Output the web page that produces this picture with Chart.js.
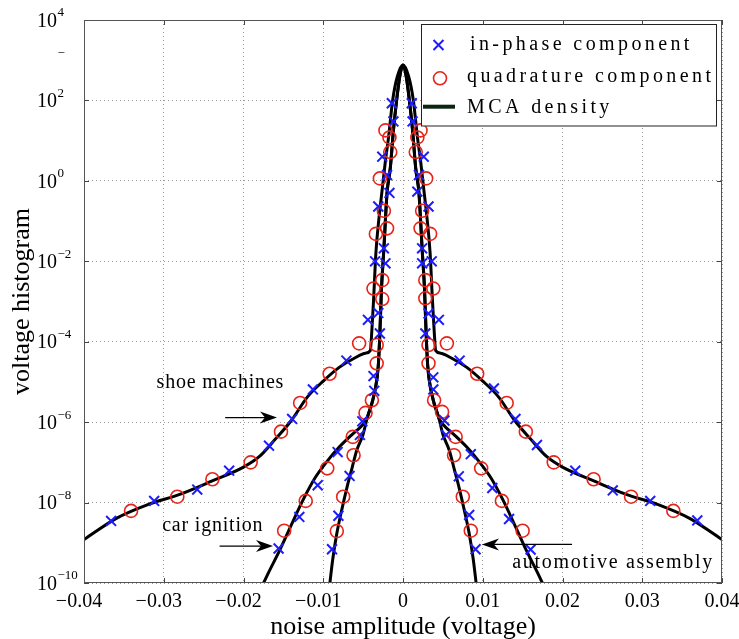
<!DOCTYPE html>
<html>
<head>
<meta charset="utf-8">
<script src="https://cdn.jsdelivr.net/npm/chart.js@4.4.1/dist/chart.umd.min.js"></script>
<style>
    html, body { margin: 0; padding: 0; background: #fff; }
    #wrap { width: 739px; height: 639px; position: relative; }
</style>
</head>
<body>
<div id="wrap"><canvas id="noiseChart"></canvas></div>
<script>
// =========================
// Data
// =========================

const xTicks = [-0.04, -0.03, -0.02, -0.01, 0, 0.01, 0.02, 0.03, 0.04];
const yTicks = [1e4, 1e2, 1e0, 1e-2, 1e-4, 1e-6, 1e-8, 1e-10];
const yTickExponents = ["4", "2", "0", "\u22122", "\u22124", "\u22126", "\u22128", "\u221210"];

// shoe machines
const shoeInX = [-0.0366, -0.0312, -0.0258, -0.0218, -0.0168, -0.0139, -0.0113, -0.0071, -0.0044, -0.0035, -0.0031, -0.0026, -0.0014,
                 0.0011, 0.0026, 0.0032, 0.0036, 0.0045, 0.0071, 0.0114, 0.0141, 0.0168, 0.0216, 0.0263, 0.0310, 0.0369];
const shoeInY = [3.5e-9, 1.1e-8, 2.1e-8, 6.2e-8, 2.6e-7, 1.2e-6, 6.5e-6, 3.4e-5, 3.5e-4, 1.0e-2, 0.23, 4.0, 85,
                 85, 4.0, 0.23, 1.0e-2, 3.5e-4, 3.4e-5, 6.9e-6, 1.2e-6, 2.7e-7, 6.2e-8, 2.0e-8, 1.1e-8, 3.6e-9];
const shoeQuX = [-0.0341, -0.0283, -0.0239, -0.0191, -0.0153, -0.0129, -0.0092, -0.0055, -0.0037, -0.0034, -0.0029, -0.0022,
                 0.0022, 0.0029, 0.0034, 0.0038, 0.0055, 0.0093, 0.0130, 0.0154, 0.0189, 0.0239, 0.0286, 0.0339];
const shoeQuY = [6.2e-9, 1.4e-8, 3.8e-8, 1.0e-7, 5.8e-7, 3.0e-6, 1.6e-5, 9.1e-5, 2.1e-3, 4.8e-2, 1.15, 18,
                 18, 1.15, 4.8e-2, 2.1e-3, 9.1e-5, 1.6e-5, 3.0e-6, 5.8e-7, 1.0e-7, 3.8e-8, 1.4e-8, 6.2e-9];
const shoeFitX = [-0.04, -0.036, -0.032, -0.028, -0.024, -0.020, -0.018, -0.016, -0.014, -0.012, -0.010, -0.008, -0.006, -0.0047,
                  -0.0041, -0.0039, -0.0037, -0.0034, -0.0030, -0.0026, -0.0022, -0.0018, -0.0013, -0.0007, 0,
                  0.0007, 0.0013, 0.0018, 0.0022, 0.0026, 0.0030, 0.0034, 0.0037, 0.0039, 0.0041,
                  0.0047, 0.006, 0.008, 0.010, 0.012, 0.014, 0.016, 0.018, 0.020, 0.024, 0.028, 0.032, 0.036, 0.04];
const shoeFitY = [1.2e-9, 4.0e-9, 8.9e-9, 1.6e-8, 3.4e-8, 7.6e-8, 1.4e-7, 3.8e-7, 1.1e-6, 4.2e-6, 1.05e-5, 2.3e-5, 4.0e-5, 5.2e-5,
                  6.0e-5, 2.0e-4, 1.0e-3, 1.6e-2, 0.126, 0.63, 3.2, 12.6, 100, 400, 760,
                  400, 100, 12.6, 3.2, 0.63, 0.126, 1.6e-2, 1.0e-3, 2.0e-4, 6.0e-5,
                  5.2e-5, 4.0e-5, 2.3e-5, 1.05e-5, 4.2e-6, 1.1e-6, 3.8e-7, 1.4e-7, 7.6e-8, 3.4e-8, 1.6e-8, 8.9e-9, 4.0e-9, 1.2e-9];

// car ignition
const carInX = [-0.0156, -0.0130, -0.0107, -0.0082, -0.0051, -0.0037, -0.0029, -0.0022, -0.0017, -0.0012,
                0.0012, 0.0018, 0.0024, 0.0028, 0.0038, 0.0052, 0.0085, 0.0112, 0.0133, 0.0160];
const carInY = [7.2e-10, 4.4e-9, 2.7e-8, 1.8e-7, 1.05e-6, 1.4e-5, 1.6e-4, 8.9e-3, 0.5, 30,
                30, 0.54, 8.9e-3, 1.6e-4, 1.3e-5, 1.1e-6, 1.6e-7, 2.3e-8, 3.9e-9, 6.8e-10];
const carQuX = [-0.0149, -0.0122, -0.0095, -0.0063, -0.0047, -0.0033, -0.0026, -0.0024, -0.0017, -0.0016,
                0.0016, 0.0018, 0.0024, 0.0028, 0.0032, 0.0049, 0.0066, 0.0098, 0.0124, 0.0150];
const carQuY = [2.0e-9, 1.1e-8, 7.1e-8, 4.3e-7, 1.7e-6, 8.3e-5, 1.15e-3, 0.18, 12, 5.2,
                5.2, 12, 0.18, 1.2e-3, 8.3e-5, 1.8e-6, 4.3e-7, 7.1e-8, 1.1e-8, 2.0e-9];
const carFitX = [-0.0176, -0.0170, -0.0155, -0.0140, -0.0125, -0.0110, -0.0095, -0.0080, -0.0065, -0.0050,
                 -0.0045, -0.0035, -0.0031, -0.0029, -0.0027, -0.0024, -0.0020, -0.0016, -0.0012, -0.0008, -0.0004, 0,
                 0.0004, 0.0008, 0.0012, 0.0016, 0.0020, 0.0024, 0.0027, 0.0029, 0.0031, 0.0035, 0.0045,
                 0.0050, 0.0065, 0.0080, 0.0095, 0.0110, 0.0125, 0.0140, 0.0155, 0.0170, 0.0176];
const carFitY = [8.9e-11, 1.6e-10, 6.3e-10, 2.8e-9, 1.2e-8, 4.2e-8, 1.07e-7, 2.4e-7, 4.7e-7, 8.9e-7,
                 1.26e-6, 6.3e-6, 2.5e-5, 1.6e-4, 2.0e-3, 2.0e-2, 0.5, 2.0, 18, 100, 400, 760,
                 400, 100, 18, 2.0, 0.5, 2.0e-2, 2.0e-3, 1.6e-4, 2.5e-5, 6.3e-6, 1.26e-6,
                 8.9e-7, 4.7e-7, 2.4e-7, 1.07e-7, 4.2e-8, 1.2e-8, 2.8e-9, 6.3e-10, 1.6e-10, 8.9e-11];

// automotive assembly
const autoInX = [-0.0089, -0.0081, -0.0067, -0.0054, -0.0036, -0.0031, -0.0024, -0.0020,
                 0.0020, 0.0024, 0.0032, 0.0038, 0.0054, 0.0070, 0.0083, 0.0091];
const autoInY = [6.9e-10, 4.7e-9, 4.6e-8, 4.8e-7, 6.0e-6, 5.2e-4, 2.1e-2, 1.4,
                 1.4, 2.1e-2, 5.0e-4, 6.5e-6, 4.8e-7, 4.5e-8, 4.9e-9, 6.9e-10];
const autoQuX = [-0.0083, -0.0075, -0.0062, -0.0039, -0.0033, -0.0026, -0.0020,
                 0.0022, 0.0028, 0.0032, 0.0039, 0.0064, 0.0075, 0.0085];
const autoQuY = [1.95e-9, 1.4e-8, 1.5e-7, 3.5e-6, 2.9e-5, 3.4e-3, 6.6e-2,
                 6.6e-2, 3.4e-3, 2.9e-5, 3.5e-6, 1.5e-7, 1.4e-8, 2.0e-9];
const autoFitX = [-0.0092, -0.0088, -0.0083, -0.0077, -0.0070, -0.0064, -0.0058, -0.0050,
                  -0.0045, -0.0035, -0.0031, -0.0029, -0.0027, -0.0024, -0.0020, -0.0016, -0.0012, -0.0008, -0.0004, 0,
                  0.0004, 0.0008, 0.0012, 0.0016, 0.0020, 0.0024, 0.0027, 0.0029, 0.0031, 0.0035, 0.0045,
                  0.0050, 0.0058, 0.0064, 0.0070, 0.0077, 0.0083, 0.0088, 0.0092];
const autoFitY = [8.9e-11, 4.0e-10, 1.7e-9, 6.3e-9, 2.5e-8, 7.1e-8, 2.0e-7, 5.0e-7,
                  1.26e-6, 6.3e-6, 2.5e-5, 1.6e-4, 2.0e-3, 2.0e-2, 0.5, 2.0, 18, 100, 400, 760,
                  400, 100, 18, 2.0, 0.5, 2.0e-2, 2.0e-3, 1.6e-4, 2.5e-5, 6.3e-6, 1.26e-6,
                  5.0e-7, 2.0e-7, 7.1e-8, 2.5e-8, 6.3e-9, 1.7e-9, 4.0e-10, 8.9e-11];

const legendLabels = ["in-phase component", "quadrature component", "MCA density"];

// =========================
// Styles
// =========================

const BLUE = "#1c1cff";
const RED = "#e8231a";
const SERIF = '"Liberation Serif", "DejaVu Serif", serif';

const notes = [
    { text: "shoe machines", at: [-0.0309, 6.9e-6], spacing: 0.8, from: [-0.0223, 1.3e-6], to: [-0.0158, 1.3e-6] },
    { text: "car ignition", at: [-0.0302, 2.0e-9], spacing: 0.8, from: [-0.0230, 8.3e-10], to: [-0.0163, 8.3e-10] },
    { text: "automotive assembly", at: [0.0137, 2.3e-10], spacing: 1.7, from: [0.0212, 9.1e-10], to: [0.0099, 9.1e-10] }
];

function toPoints(xs, ys) {
    return xs.map((x, i) => ({ x: x, y: ys[i] }));
}

function crosses(xs, ys) {
    return {
        data: toPoints(xs, ys),
        pointStyle: "crossRot",
        pointRadius: 7,
        pointBorderWidth: 2,
        pointBorderColor: BLUE,
        pointBackgroundColor: BLUE
    };
}

function circles(xs, ys) {
    return {
        data: toPoints(xs, ys),
        pointStyle: "circle",
        pointRadius: 6.5,
        pointBorderWidth: 1.6,
        pointBorderColor: RED,
        pointBackgroundColor: "rgba(0,0,0,0)"
    };
}

function fitLine(xs, ys) {
    return {
        data: toPoints(xs, ys),
        showLine: true,
        borderColor: "#000",
        borderWidth: 3,
        pointRadius: 0,
        cubicInterpolationMode: "monotone",
        clip: 0
    };
}

// =========================
// Extra drawing: ticks, box, labels, notes, legend
// =========================

function drawArrow(ctx, x1, y1, x2, y2) {
    const ang = Math.atan2(y2 - y1, x2 - x1);
    const len = 17, half = 6, notch = 5;
    ctx.beginPath();
    ctx.moveTo(x1, y1);
    ctx.lineTo(x2 - Math.cos(ang) * 8, y2 - Math.sin(ang) * 8);
    ctx.lineWidth = 1.3;
    ctx.stroke();
    ctx.save();
    ctx.translate(x2, y2);
    ctx.rotate(ang);
    ctx.beginPath();
    ctx.moveTo(0, 0);
    ctx.lineTo(-len, -half);
    ctx.lineTo(-len + notch, 0);
    ctx.lineTo(-len, half);
    ctx.closePath();
    ctx.fill();
    ctx.restore();
}

const figureExtras = {
    id: "figureExtras",
    afterDraw(chart) {
        const { ctx, chartArea: a, scales } = chart;
        const xs = scales.x, ys = scales.y;
        ctx.save();

        // annotations
        ctx.fillStyle = "#000";
        ctx.strokeStyle = "#000";
        ctx.font = "20px " + SERIF;
        ctx.textAlign = "left";
        ctx.textBaseline = "alphabetic";
        notes.forEach(n => {
            ctx.letterSpacing = n.spacing + "px";
            ctx.fillText(n.text, xs.getPixelForValue(n.at[0]), ys.getPixelForValue(n.at[1]));
            drawArrow(ctx,
                xs.getPixelForValue(n.from[0]), ys.getPixelForValue(n.from[1]),
                xs.getPixelForValue(n.to[0]), ys.getPixelForValue(n.to[1]));
        });
        ctx.letterSpacing = "0px";

        // legend
        const lx = 421.5, ly = 24.5, lw = 295, lh = 101.5;
        ctx.fillStyle = "#fff";
        ctx.fillRect(lx, ly, lw, lh);
        ctx.lineWidth = 1;
        ctx.strokeStyle = "#222";
        ctx.strokeRect(lx, ly, lw, lh);

        ctx.strokeStyle = BLUE;
        ctx.lineWidth = 2;
        ctx.beginPath();
        ctx.moveTo(433.5, 40); ctx.lineTo(443.5, 50);
        ctx.moveTo(443.5, 40); ctx.lineTo(433.5, 50);
        ctx.stroke();

        ctx.strokeStyle = RED;
        ctx.lineWidth = 1.6;
        ctx.beginPath();
        ctx.arc(440, 78.3, 6.5, 0, Math.PI * 2);
        ctx.stroke();

        ctx.strokeStyle = "#0a2412";
        ctx.lineWidth = 4;
        ctx.beginPath();
        ctx.moveTo(423, 106.7); ctx.lineTo(455, 106.7);
        ctx.stroke();

        ctx.fillStyle = "#000";
        ctx.font = "20px " + SERIF;
        ctx.letterSpacing = "3.4px";
        ctx.fillText(legendLabels[0], 470, 50);
        ctx.fillText(legendLabels[1], 467, 81.7);
        ctx.fillText(legendLabels[2], 467, 113.3);
        ctx.letterSpacing = "0px";

        // inward tick marks and the axes box
        ctx.strokeStyle = "#444";
        ctx.lineWidth = 1;
        ctx.beginPath();
        xTicks.forEach(v => {
            const px = Math.round(xs.getPixelForValue(v)) + 0.5;
            ctx.moveTo(px, a.bottom); ctx.lineTo(px, a.bottom - 5);
            ctx.moveTo(px, a.top); ctx.lineTo(px, a.top + 5);
        });
        yTicks.forEach(v => {
            const py = Math.round(ys.getPixelForValue(v)) + 0.5;
            ctx.moveTo(a.left, py); ctx.lineTo(a.left + 5, py);
            ctx.moveTo(a.right, py); ctx.lineTo(a.right - 5, py);
        });
        ctx.stroke();
        ctx.strokeStyle = "#555";
        ctx.strokeRect(Math.round(a.left) + 0.5, Math.round(a.top) + 0.5,
                       Math.round(a.width) - 1, Math.round(a.height) - 1);

        // y tick labels with superscript exponents
        ctx.fillStyle = "#000";
        ctx.textBaseline = "middle";
        ctx.textAlign = "left";
        yTicks.forEach((v, i) => {
            const py = ys.getPixelForValue(v);
            ctx.font = "20px " + SERIF;
            ctx.fillText("10", 37, py + 1.5);
            const w = ctx.measureText("10").width;
            ctx.font = "13px " + SERIF;
            ctx.fillText(yTickExponents[i], 37 + w + 0.5, py - 7);
        });
        // stray exponent dash next to 10^3 in the original
        ctx.font = "13px " + SERIF;
        ctx.fillText("\u2212", 57.5, ys.getPixelForValue(1e3) - 7);

        ctx.restore();
    }
};

// =========================
// Chart
// =========================

const ctx = document.getElementById("noiseChart");

const chart = new Chart(ctx, {
    type: "scatter",
    data: {
        datasets: [
            crosses(shoeInX, shoeInY),
            circles(shoeQuX, shoeQuY),
            crosses(carInX, carInY),
            circles(carQuX, carQuY),
            crosses(autoInX, autoInY),
            circles(autoQuX, autoQuY),
            fitLine(shoeFitX, shoeFitY),
            fitLine(carFitX, carFitY),
            fitLine(autoFitX, autoFitY)
        ]
    },
    options: {
        responsive: true,
        maintainAspectRatio: false,
        animation: false,
        events: [],
        layout: { padding: { top: 20, right: 17, left: 0, bottom: 0 } },
        plugins: {
            legend: { display: false },
            tooltip: { enabled: false }
        },
        scales: {
            x: {
                type: "linear",
                min: -0.04,
                max: 0.04,
                afterBuildTicks: s => { s.ticks = xTicks.map(v => ({ value: v })); },
                afterFit: s => { s.height = 56; s.paddingLeft = 0; s.paddingRight = 0; },
                grid: { color: "#999", lineWidth: 1, drawTicks: false },
                border: { display: false, dash: [1, 3] },
                ticks: {
                    padding: 7,
                    color: "#000",
                    font: { family: SERIF, size: 20 },
                    maxRotation: 0,
                    // the minus sign hangs left of the centred number, as in the original
                    callback: v => {
                        const r = Math.round(v * 100) / 100;
                        if (r === 0) return "0";
                        return r < 0 ? "\u2212" + Math.abs(r).toFixed(2) + "\u2002" : r.toFixed(2);
                    }
                },
                title: {
                    display: true,
                    text: "noise amplitude (voltage)",
                    color: "#000",
                    font: { family: SERIF, size: 26, lineHeight: 0.9 },
                    padding: { top: 0, bottom: 0 }
                }
            },
            y: {
                type: "logarithmic",
                min: 1e-10,
                max: 1e4,
                afterBuildTicks: s => { s.ticks = yTicks.map(v => ({ value: v })); },
                afterFit: s => { s.width = 84; s.paddingTop = 0; s.paddingBottom = 0; },
                grid: { color: "#999", lineWidth: 1, drawTicks: false },
                border: { display: false, dash: [1, 3] },
                ticks: { display: false },
                title: {
                    display: true,
                    text: "voltage histogram",
                    color: "#000",
                    font: { family: SERIF, size: 26, lineHeight: 1.2 },
                    padding: { top: 7, bottom: 0 }
                }
            }
        }
    },
    plugins: [figureExtras]
});
</script>
</body>
</html>
